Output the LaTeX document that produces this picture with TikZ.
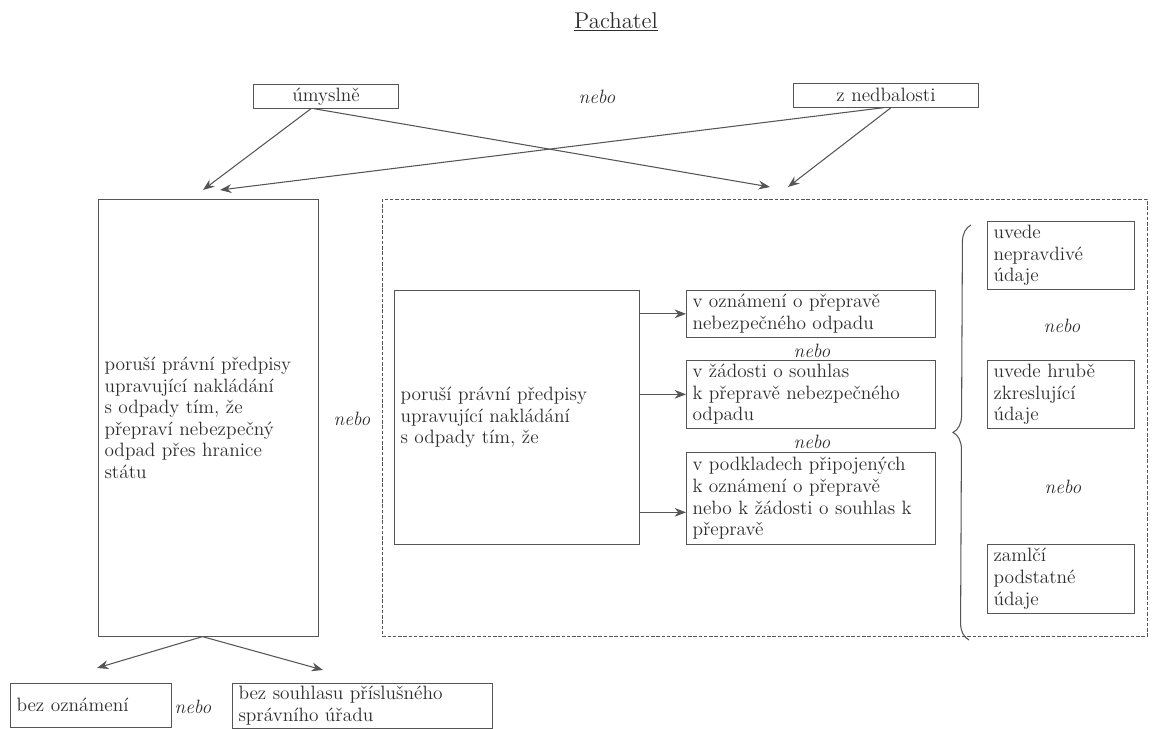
\documentclass[tikz,border=0pt]{standalone}
\usepackage{tikz}
\usepackage{xcolor}
\usetikzlibrary{arrows.meta, calc, positioning, decorations.pathreplacing}
\definecolor{linegray}{RGB}{85,85,85}
\definecolor{textgray}{RGB}{45,45,45}

\begin{document}
\begin{tikzpicture}[x=0.02cm, y=-0.02cm, >={Stealth[length=6.5pt, width=5pt]},
    krabice/.style={draw=linegray, anchor=north west, inner xsep=3.5pt, inner ysep=1pt, align=left, text=textgray, font=\fontsize{11}{12.3}\selectfont},
    nebo/.style={text=textgray, font=\fontsize{11}{12}\selectfont\itshape},
    sipka/.style={->, linegray, semithick}]
                \useasboundingbox (0,0) rectangle (1153,729);
                
                % Title
                \node[text=textgray, font=\fontsize{13}{15}\selectfont] (titul) at (616,22) {\underline{Pachatel}};
                
                % Intent
                \node[krabice, align=center, text width=2.66cm, minimum height=0.48cm] (umyslne) at (253,84) {úmyslně};
                \node[nebo] (nebo0) at (597,97) {nebo};
                \node[krabice, align=center, text width=3.46cm, minimum height=0.48cm] (nedbalost) at (793,83) {z nedbalosti};
                
                % Left conduct
                \node[krabice, text width=4.16cm, minimum height=8.74cm] (velky) at (98,199)
                    {poruší právní předpisy\\upravující nakládání\\s odpady tím, že\\přepraví nebezpečný\\odpad přes hranice\\státu};
                \node[nebo] (nebo1) at (352,419) {nebo};
                
                % Right conduct (dashed frame)
                \node[draw=linegray, dash pattern=on 2pt off 1pt, anchor=north west, inner sep=0pt, minimum width=15.3cm, minimum height=8.74cm] (ramec) at (382,199) {};
                \node[krabice, text width=4.66cm, minimum height=5.08cm] (stred) at (394,290)
                    {poruší právní předpisy\\upravující nakládání\\s odpady tím, že};
                
                \node[krabice, text width=4.74cm, minimum height=0.94cm] (oznameni) at (686,290)
                    {v oznámení o přepravě\\nebezpečného odpadu};
                \node[nebo] (nebo2) at (812,351) {nebo};
                \node[krabice, text width=4.74cm, minimum height=1.36cm] (zadost) at (686,360)
                    {v žádosti o souhlas\\k přepravě nebezpečného\\odpadu};
                \node[nebo] (nebo3) at (812,442) {nebo};
                \node[krabice, text width=4.74cm, minimum height=1.84cm] (podklady) at (686,452)
                    {v podkladech připojených\\k oznámení o přepravě\\nebo k žádosti o souhlas k\\přepravě};
                
                % Data
                \node[krabice, text width=2.7cm, minimum height=1.36cm] (nepravdive) at (987,221)
                    {uvede\\nepravdivé\\údaje};
                \node[nebo] (nebo4) at (1062,326) {nebo};
                \node[krabice, text width=2.7cm, minimum height=1.36cm] (hrube) at (987,360)
                    {uvede hrubě\\zkreslující\\údaje};
                \node[nebo] (nebo5) at (1063,487) {nebo};
                \node[krabice, text width=2.7cm, minimum height=1.38cm] (zamlci) at (987,544)
                    {zamlčí\\podstatné\\údaje};
                
                % Brace
                \draw[linegray, semithick, decorate, decoration={brace, amplitude=0.34cm}] (969,640) -- (971,225);
                
                % Bottom
                \node[krabice, text width=2.98cm, minimum height=0.88cm] (bezozn) at (10,683) {bez oznámení};
                \node[nebo] (nebo6) at (193,707) {nebo};
                \node[krabice, text width=4.96cm, minimum height=0.9cm] (bezsouhl) at (232,683)
                    {bez souhlasu příslušného\\správního úřadu};
                
                % Arrow ends
                \coordinate (cilA) at (203,190);
                \coordinate (cilB) at (220,190);
                \coordinate (cilC) at (770,187);
                \coordinate (cilD) at (788,187);
                \coordinate (cilE) at (97,668);
                \coordinate (cilF) at (323,670);
                
                % Arrows from intent
                \draw[sipka] ([xshift=-0.3cm]umyslne.south) -- (cilA);
                \draw[sipka] ([xshift=-0.24cm]umyslne.south) -- (cilC);
                \draw[sipka] ([xshift=-0.05cm]nedbalost.south) -- (cilB);
                \draw[sipka] ([xshift=0.1cm]nedbalost.south) -- (cilD);
                
                % Arrows to places
                \draw[sipka] (stred.east |- oznameni.west) -- (oznameni.west);
                \draw[sipka] (stred.east |- zadost.west) -- (zadost.west);
                \draw[sipka] ([yshift=-0.28cm]stred.east |- podklady.west) -- ([yshift=-0.28cm]podklady.west);
                
                % Arrows down
                \draw[sipka] ([xshift=-0.12cm]velky.south) -- (cilE);
                \draw[sipka] ([xshift=-0.12cm]velky.south) -- (cilF);
            \end{tikzpicture}
\end{document}
